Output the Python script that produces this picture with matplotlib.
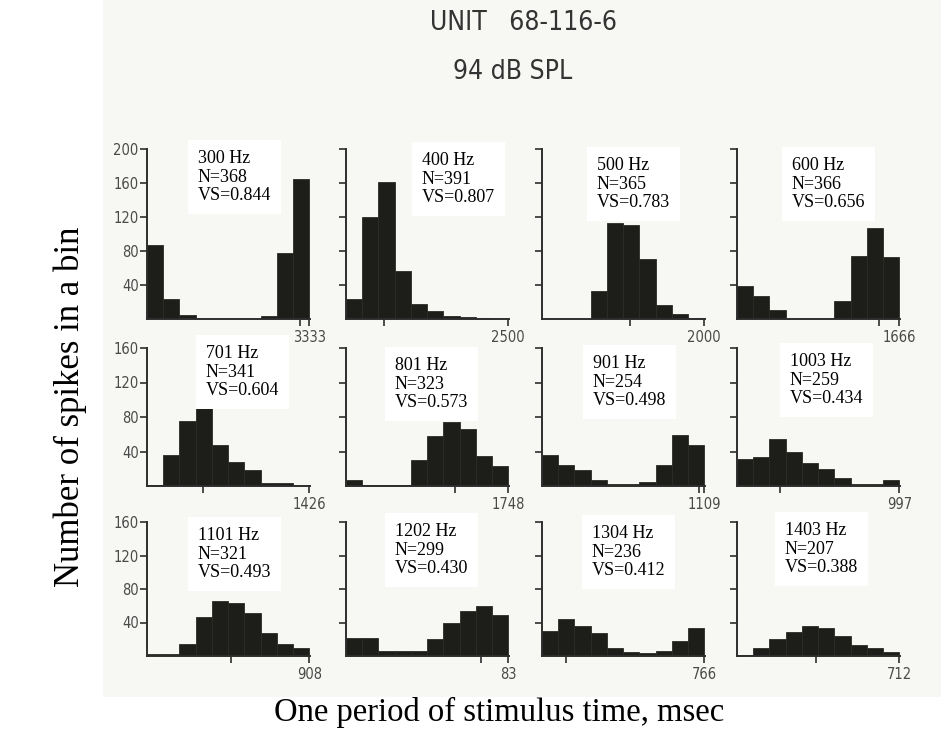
import matplotlib
matplotlib.use('Agg')
import matplotlib.pyplot as plt
from matplotlib.patches import Rectangle

# ---------------- data ----------------
freq_labels = ['300 Hz', '400 Hz', '500 Hz', '600 Hz',
               '701 Hz', '801 Hz', '901 Hz', '1003 Hz',
               '1101 Hz', '1202 Hz', '1304 Hz', '1403 Hz']
n_spikes = [368, 391, 365, 366, 341, 323, 254, 259, 321, 299, 236, 207]
vs_values = ['0.844', '0.807', '0.783', '0.656', '0.604', '0.573',
             '0.498', '0.434', '0.493', '0.430', '0.412', '0.388']
period_labels = ['3333', '2500', '2000', '1666', '1426', '1748',
                 '1109', '997', '908', '83', '766', '712']
mean_phase_bin = [9.46, 2.35, 5.4, 8.76, 3.47, 6.75, 9.65, 2.64, 5.2, 8.34, 1.45, 4.87]

counts_300 = [87, 23, 5, 0, 0, 0, 0, 4, 78, 165]
counts_400 = [24, 120, 161, 57, 18, 9, 4, 2, 1, 0]
counts_500 = [0, 0, 0, 33, 113, 111, 71, 16, 6, 1]
counts_600 = [39, 27, 11, 0, 0, 0, 21, 74, 107, 73]
counts_701 = [1, 36, 75, 94, 47, 28, 18, 4, 3, 0]
counts_801 = [7, 1, 1, 1, 30, 58, 74, 66, 35, 23]
counts_901 = [36, 24, 18, 7, 2, 2, 5, 24, 59, 48]
counts_1003 = [31, 34, 55, 40, 27, 20, 9, 2, 2, 7]
counts_1101 = [2, 2, 14, 47, 66, 63, 51, 28, 14, 10]
counts_1202 = [22, 22, 6, 6, 6, 20, 39, 54, 60, 49]
counts_1304 = [30, 44, 36, 27, 9, 5, 3, 6, 18, 34]
counts_1403 = [1, 10, 20, 29, 36, 34, 24, 13, 9, 5]

all_counts = [counts_300, counts_400, counts_500, counts_600,
              counts_701, counts_801, counts_901, counts_1003,
              counts_1101, counts_1202, counts_1304, counts_1403]

row_ymax = [200, 160, 160]
row_yticks = [[40, 80, 120, 160, 200], [40, 80, 120, 160], [40, 80, 120, 160]]

# ---------------- layout ----------------
W, H = 941, 735
fig = plt.figure(figsize=(W / 100, H / 100), dpi=100)
fig.patch.set_facecolor('white')

# scanned area background
fig.patches.append(Rectangle((103 / W, 1 - 697 / H), 1 - 103 / W, 697 / H,
                             transform=fig.transFigure, facecolor='#f7f7f4',
                             edgecolor='none', zorder=-10))

col_left_px = [147, 346, 542, 737]
col_width_px = 163
row_top_px = [149, 348, 522]
row_bottom_px = [319, 486, 656]

text_pos_px = [(198, 150), (422, 152), (597, 157), (792, 157),
               (206, 345), (395, 357), (593, 355), (790, 353),
               (198, 527), (395, 523), (592, 525), (785, 522)]

bar_color = '#1d1d19'
axis_color = '#2e2e2e'
tick_font = dict(family='DejaVu Sans', stretch='condensed', size=10.5, color='#4a4a4a')

for i, counts in enumerate(all_counts):
    r, c = divmod(i, 4)
    left = col_left_px[c] / W
    bottom = 1 - row_bottom_px[r] / H
    height = (row_bottom_px[r] - row_top_px[r]) / H
    ax = fig.add_axes([left, bottom, col_width_px / W, height])
    ax.set_facecolor('none')
    xs = list(range(len(counts)))
    ax.bar(xs, counts, width=1.0, align='edge', color=bar_color,
           edgecolor='#2b2b25', linewidth=0.6, zorder=2)
    ax.set_xlim(0, 10.05)
    ax.set_ylim(0, row_ymax[r])
    for s in ['top', 'right']:
        ax.spines[s].set_visible(False)
    for s in ['left', 'bottom']:
        ax.spines[s].set_color(axis_color)
        ax.spines[s].set_linewidth(1.4)
    ax.set_yticks(row_yticks[r])
    if c == 0:
        ax.set_yticklabels([str(t) for t in row_yticks[r]], fontdict=tick_font)
    else:
        ax.set_yticklabels([])
    ax.tick_params(axis='y', direction='out', length=5, width=1.2, color=axis_color, pad=1)
    ax.set_xticks([mean_phase_bin[i], 10])
    ax.set_xticklabels(['', period_labels[i]], fontdict=tick_font)
    ax.tick_params(axis='x', direction='out', length=5, width=1.2, color=axis_color, pad=3)

    x_px, y_px = text_pos_px[i]
    fig.text(x_px / W, 1 - y_px / H,
             f'{freq_labels[i]}\nN={n_spikes[i]}\nVS={vs_values[i]}',
             ha='left', va='top', fontsize=13, family='Liberation Serif',
             linespacing=1.12, color='black', zorder=5,
             bbox=dict(facecolor='white', edgecolor='none', pad=7))

# titles
fig.text(523 / W, 1 - 23 / H, 'UNIT   68-116-6', ha='center', va='center',
         fontsize=19, family='DejaVu Sans', stretch='condensed', color='#333333')
fig.text(513 / W, 1 - 72 / H, '94 dB SPL', ha='center', va='center',
         fontsize=19, family='DejaVu Sans', stretch='condensed', color='#333333')

# axis labels
fig.text(70 / W, 1 - 407 / H, 'Number of spikes in a bin', rotation=90,
         ha='center', va='center', fontsize=25, family='Liberation Serif')
fig.text(499 / W, 1 - 712 / H, 'One period of stimulus time, msec',
         ha='center', va='center', fontsize=23.5, family='Liberation Serif')

fig.savefig('out.png', dpi=100, facecolor=fig.get_facecolor())
